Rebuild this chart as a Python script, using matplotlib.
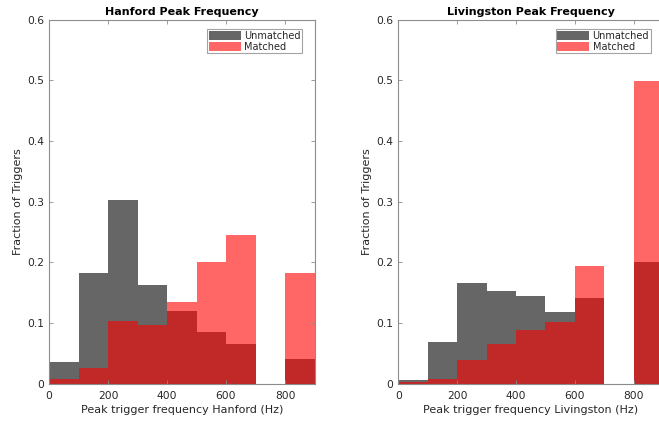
import numpy as np
import matplotlib
matplotlib.use("Agg")
import matplotlib.pyplot as plt
from matplotlib.patches import Patch

bin_edges = [0, 100, 200, 300, 400, 500, 600, 700, 800, 900]
hanford_unmatched = [0.035, 0.182, 0.303, 0.163, 0.120, 0.086, 0.066, 0.0, 0.040]
hanford_matched = [0.007, 0.026, 0.103, 0.096, 0.135, 0.201, 0.245, 0.0, 0.182]
livingston_unmatched = [0.006, 0.0695, 0.166, 0.153, 0.144, 0.1175, 0.141, 0.0, 0.200]
livingston_matched = [0.002, 0.008, 0.039, 0.065, 0.089, 0.101, 0.194, 0.0, 0.499]
titles = ["Hanford Peak Frequency", "Livingston Peak Frequency"]
xlabels = ["Peak trigger frequency Hanford (Hz)", "Peak trigger frequency Livingston (Hz)"]
legend_labels = ["Unmatched", "Matched"]

plt.rcParams['font.family'] = ['DejaVu Sans']

W, H = 659, 421
fig = plt.figure(figsize=(W / 100, H / 100), dpi=100)

ax_boxes = [
    (49 / W, (H - 383.7) / H, (314.5 - 49) / W, (383.7 - 19.7) / H),
    (398.3 / W, (H - 383.7) / H, (663 - 398.3) / W, (383.7 - 19.7) / H),
]
data = [(hanford_unmatched, hanford_matched), (livingston_unmatched, livingston_matched)]

edges = np.array(bin_edges, dtype=float)
centers = (edges[:-1] + edges[1:]) / 2
widths = np.diff(edges)
spine_col = "#8c8c8c"
text_col = "#262626"

for i in range(2):
    ax = fig.add_axes(ax_boxes[i])
    um, m = data[i]
    ax.bar(centers, um, width=widths, color="black", alpha=0.6, edgecolor="none", linewidth=0)
    ax.bar(centers, m, width=widths, color="red", alpha=0.6, edgecolor="none", linewidth=0)
    ax.set_xlim(0, 900)
    ax.set_ylim(0, 0.6)
    ax.set_xticks([0, 200, 400, 600, 800])
    ax.set_yticks([0, 0.1, 0.2, 0.3, 0.4, 0.5, 0.6])
    ax.set_yticklabels(["0", "0.1", "0.2", "0.3", "0.4", "0.5", "0.6"])
    ax.tick_params(direction="in", length=3, width=0.6, color=spine_col,
                   labelsize=7.7, labelcolor=text_col, top=True, right=True, pad=3.5)
    ax.tick_params(axis="x", pad=5)
    for s in ax.spines.values():
        s.set_color(spine_col)
        s.set_linewidth(0.8)
    ax.set_title(titles[i], fontsize=8, fontweight="bold", color="black", pad=3.5)
    ax.set_xlabel(xlabels[i], fontsize=8, color=text_col, labelpad=3)
    ax.set_ylabel("Fraction of Triggers", fontsize=8, color=text_col, labelpad=3)
    handles = [Patch(facecolor="#666666", edgecolor="none"),
               Patch(facecolor="#ff6666", edgecolor="none")]
    anchor_x = (302 - 49) / 265.5
    anchor_y = 1 - (29.3 - 19.7) / 364.0
    leg = ax.legend(handles, legend_labels, loc="upper right", fontsize=7,
                    bbox_to_anchor=(anchor_x, anchor_y),
                    frameon=True, fancybox=False, edgecolor=spine_col,
                    handlelength=3.3, handleheight=1.0, handletextpad=0.35,
                    borderpad=0.15, labelspacing=0.1, borderaxespad=0.0)
    leg.get_frame().set_linewidth(0.8)
    for t in leg.get_texts():
        t.set_color(text_col)

fig.savefig("out.png", dpi=100)
